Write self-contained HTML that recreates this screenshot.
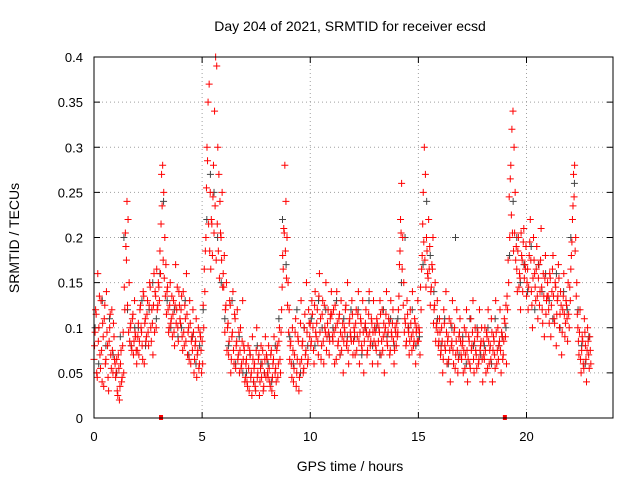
<!DOCTYPE html>
<html><head><meta charset="utf-8"><style>
body{margin:0;background:#fff}
svg{font-family:"Liberation Sans",sans-serif}
</style></head><body>
<svg id="chart" width="640" height="480">
<rect width="640" height="480" fill="#fff"/>
<text x="350" y="31" font-size="14" text-anchor="middle">Day 204 of 2021, SRMTID for receiver ecsd</text>
<text x="19" y="238" font-size="14" text-anchor="middle" transform="rotate(-90 19 238)">SRMTID / TECUs</text>
<text x="350" y="471" font-size="14" text-anchor="middle">GPS time / hours</text>
<g id="grid"></g><g id="ticks"></g><g id="gray"></g><g id="red"></g><g id="red2"></g>
<rect x="94" y="57" width="519" height="361" fill="none" stroke="#000"/>
</svg>
<script>
const xTicks=[0,5,10,15,20];
const yTicks=[0,0.05,0.1,0.15,0.2,0.25,0.3,0.35,0.4];
const yTickLabels=["0","0.05","0.1","0.15","0.2","0.25","0.3","0.35","0.4"];
const markerHours=[3.1,19.0];
const redVals=[
[.08,.12,.05,.16,.1,.07,.13,.04,.09,.11,.06,.14,.08,.03,.1,.07,.12,.05,.09,.06],
[.05,.03,.07,.02,.06,.04,.08,.05,.12,.19,.24,.22,.15,.1,.08,.11,.07,.13,.09,.06],
[.09,.07,.12,.1,.08,.14,.06,.11,.09,.13,.08,.15,.1,.12,.07,.16,.14,.1,.12,.15],
[.13,.16,.27,.28,.25,.2,.17,.14,.12,.1,.15,.11,.09,.13,.08,.17,.12,.1,.14,.11],
[.12,.09,.14,.08,.11,.16,.07,.1,.13,.06,.09,.12,.05,.08,.11,.07,.1,.06,.09,.05],
[.06,.1,.14,.2,.3,.35,.37,.25,.22,.18,.28,.34,.4,.39,.3,.27,.24,.2,.25,.16],
[.18,.12,.15,.1,.07,.13,.05,.09,.14,.06,.11,.08,.12,.07,.05,.1,.06,.13,.08,.04],
[.06,.04,.08,.03,.07,.05,.09,.04,.06,.03,.1,.05,.07,.04,.08,.06,.03,.05,.09,.07],
[.05,.08,.04,.07,.03,.06,.09,.05,.04,.08,.06,.1,.05,.12,.18,.21,.28,.24,.2,.15],
[.12,.08,.06,.1,.04,.07,.11,.05,.09,.03,.06,.13,.08,.05,.1,.07,.15,.06,.12,.09],
[.08,.13,.1,.06,.14,.09,.12,.07,.16,.11,.08,.13,.06,.1,.15,.09,.12,.07,.11,.14],
[.09,.12,.06,.1,.14,.08,.11,.07,.13,.09,.05,.1,.12,.08,.15,.06,.11,.09,.13,.07],
[.1,.07,.12,.09,.14,.06,.11,.08,.13,.05,.1,.12,.07,.09,.14,.08,.11,.06,.13,.1],
[.08,.11,.06,.1,.13,.07,.12,.09,.05,.1,.14,.08,.11,.07,.13,.09,.12,.06,.1,.08],
[.09,.12,.17,.22,.26,.2,.15,.11,.08,.13,.1,.07,.12,.09,.14,.08,.11,.06,.1,.13],
[.1,.07,.12,.18,.25,.3,.27,.2,.16,.22,.19,.14,.17,.2,.12,.15,.1,.13,.08,.11],
[.07,.1,.05,.12,.08,.14,.06,.09,.11,.04,.08,.13,.06,.1,.07,.12,.05,.09,.11,.07],
[.08,.05,.1,.07,.12,.04,.09,.06,.11,.08,.13,.05,.1,.07,.09,.06,.12,.08,.1,.04],
[.07,.1,.05,.09,.12,.06,.08,.11,.04,.09,.07,.13,.06,.1,.08,.12,.05,.09,.07,.11],
[.09,.06,.12,.15,.2,.28,.32,.34,.3,.25,.19,.14,.2,.16,.12,.18,.14,.21,.17,.19],
[.15,.12,.18,.22,.14,.1,.2,.16,.13,.19,.11,.17,.14,.21,.12,.16,.09,.18,.13,.15],
[.12,.16,.09,.14,.18,.11,.15,.08,.13,.17,.1,.14,.07,.12,.16,.09,.13,.11,.15,.1],
[.13,.18,.22,.27,.28,.2,.15,.1,.07,.12,.05,.09,.06,.11,.08,.04,.1,.07,.09,.06]
];
const redVals2=[
[.065,.095,.115,.045,.085,.135,.055,.075,.105,.035,.125,.065,.095,.045,.085,.115,.055,.075,.105,.065],
[.045,.065,.025,.055,.035,.075,.045,.095,.145,.205,.175,.125,.095,.085,.105,.075,.115,.085,.095,.075],
[.075,.105,.085,.125,.095,.065,.135,.105,.085,.115,.095,.125,.145,.085,.105,.125,.095,.135,.165,.125],
[.145,.185,.215,.235,.175,.155,.135,.115,.145,.095,.125,.105,.135,.115,.095,.125,.105,.145,.085,.125],
[.105,.135,.075,.095,.125,.085,.115,.095,.065,.105,.085,.075,.095,.065,.085,.045,.075,.055,.095,.075],
[.085,.125,.165,.185,.255,.285,.215,.185,.165,.215,.245,.205,.235,.175,.215,.185,.155,.205,.175,.145],
[.145,.095,.125,.075,.105,.085,.125,.065,.095,.075,.115,.055,.085,.065,.095,.075,.055,.085,.065,.075],
[.045,.065,.035,.055,.075,.045,.025,.065,.055,.035,.075,.045,.065,.025,.055,.045,.075,.035,.065,.045],
[.065,.045,.055,.035,.075,.045,.065,.025,.055,.075,.045,.085,.065,.095,.145,.165,.205,.185,.155,.125],
[.095,.065,.085,.045,.075,.055,.095,.035,.065,.085,.045,.105,.065,.085,.055,.115,.075,.095,.065,.105],
[.105,.085,.115,.075,.125,.095,.105,.085,.135,.095,.065,.115,.085,.125,.095,.075,.105,.095,.085,.115],
[.115,.085,.095,.125,.065,.105,.085,.115,.095,.075,.105,.085,.095,.125,.085,.075,.105,.095,.085,.115],
[.085,.095,.105,.075,.115,.085,.095,.105,.075,.095,.085,.105,.095,.075,.115,.095,.085,.105,.095,.085],
[.095,.075,.105,.085,.095,.115,.085,.075,.105,.095,.115,.085,.095,.105,.075,.095,.105,.085,.075,.095],
[.105,.095,.135,.185,.205,.165,.125,.095,.105,.085,.115,.095,.085,.105,.075,.095,.085,.105,.095,.085],
[.085,.095,.145,.165,.215,.195,.175,.145,.185,.155,.165,.125,.145,.165,.105,.125,.085,.105,.095,.085],
[.095,.075,.085,.065,.105,.075,.095,.085,.065,.075,.105,.085,.075,.095,.055,.085,.075,.065,.095,.085],
[.065,.085,.075,.055,.095,.075,.065,.085,.055,.075,.095,.065,.085,.075,.055,.095,.065,.075,.085,.065],
[.085,.065,.075,.095,.055,.085,.075,.065,.095,.075,.085,.055,.095,.075,.065,.085,.075,.095,.065,.085],
[.105,.125,.135,.175,.245,.265,.225,.205,.185,.205,.175,.165,.185,.145,.155,.205,.175,.195,.155,.165],
[.135,.165,.145,.195,.175,.125,.155,.175,.145,.165,.135,.155,.125,.175,.145,.105,.135,.155,.115,.135],
[.135,.105,.155,.125,.165,.135,.105,.145,.115,.135,.155,.115,.125,.095,.135,.115,.105,.125,.085,.115],
[.145,.165,.195,.235,.245,.185,.135,.115,.085,.095,.065,.075,.085,.055,.095,.065,.075,.085,.055,.075]
];
const grayVals=[
[.1,.06,.13,.08,.11,.07],[.05,.09,.2,.12,.08,.1],[.1,.13,.08,.12,.15,.11],
[.16,.24,.13,.1,.12,.09],[.1,.13,.07,.09,.06,.08],[.12,.22,.27,.25,.2,.15],
[.11,.08,.13,.06,.09,.05],[.05,.07,.04,.08,.06,.05],[.06,.04,.08,.11,.22,.17],
[.09,.06,.12,.05,.1,.08],[.11,.08,.13,.1,.12,.09],[.1,.13,.07,.11,.09,.12],
[.09,.12,.07,.1,.13,.08],[.1,.07,.12,.09,.11,.08],[.11,.15,.2,.1,.12,.08],
[.09,.17,.24,.18,.14,.11],[.08,.11,.06,.1,.2,.07],[.09,.06,.11,.08,.1,.07],
[.08,.1,.06,.11,.08,.09],[.1,.18,.24,.2,.15,.17],[.14,.19,.12,.17,.14,.16],
[.13,.11,.16,.1,.14,.12],[.2,.26,.12,.08,.06,.09]
];
const X0=94,X1=613,Y0=418,Y1=57,XMAX=24,YMAX=0.4;
const xs=h=>X0+h/XMAX*(X1-X0);
const ys=v=>Y0-v/YMAX*(Y0-Y1);
const NS="http://www.w3.org/2000/svg";
function mk(tag,attrs,parent){const e=document.createElementNS(NS,tag);for(const k in attrs)e.setAttribute(k,attrs[k]);parent.appendChild(e);return e;}
const grid=document.getElementById('grid'),ticks=document.getElementById('ticks');
xTicks.forEach(t=>{const x=xs(t);
 if(t>0){const g=mk('line',{x1:x,x2:x,y1:Y0,y2:Y1,stroke:'#a0a0a0','stroke-dasharray':'1,3'},grid);
 
 }
 mk('line',{x1:x,x2:x,y1:Y0,y2:Y0-6,stroke:'#000'},ticks);
 mk('line',{x1:x,x2:x,y1:Y1,y2:Y1+6,stroke:'#000'},ticks);
 const l=mk('text',{x:x,y:Y0+23,'font-size':13,'text-anchor':'middle'},ticks);l.textContent=t;
 
 });
yTicks.forEach((t,i)=>{const y=ys(t);
 if(i>0&&i<yTicks.length-1){const g=mk('line',{x1:X0,x2:X1,y1:y,y2:y,stroke:'#a0a0a0','stroke-dasharray':'1,3'},grid);
 
 }
 mk('line',{x1:X0,x2:X0+6,y1:y,y2:y,stroke:'#000'},ticks);
 mk('line',{x1:X1,x2:X1-6,y1:y,y2:y,stroke:'#000'},ticks);
 const l=mk('text',{x:X0-11,y:y+5,'font-size':13,'text-anchor':'end'},ticks);l.textContent=yTickLabels[i];
 
 });
function plot(vals,gid,color,name,off){const g=document.getElementById(gid);
 vals.forEach((arr,h)=>arr.forEach((v,i)=>{const x=xs(h+(i+off)/arr.length),y=ys(v);
  const p=mk('path',{d:`M${x-3.5},${y}h7M${x},${y-3.5}v7`,stroke:color,'stroke-width':1},g);
  
  }));}
plot(redVals,'red','#f00','srmtid-point',0.5);
plot(redVals2,'red2','#f00','srmtid-point',0.0);
plot(grayVals,'gray','#444','srmtid-point-alt',0.3);
markerHours.forEach(h=>{const r=mk('rect',{x:xs(h)-2,y:Y0-3,width:4,height:5,fill:'#f00'},ticks);
 
 });
</script>
</body></html>
